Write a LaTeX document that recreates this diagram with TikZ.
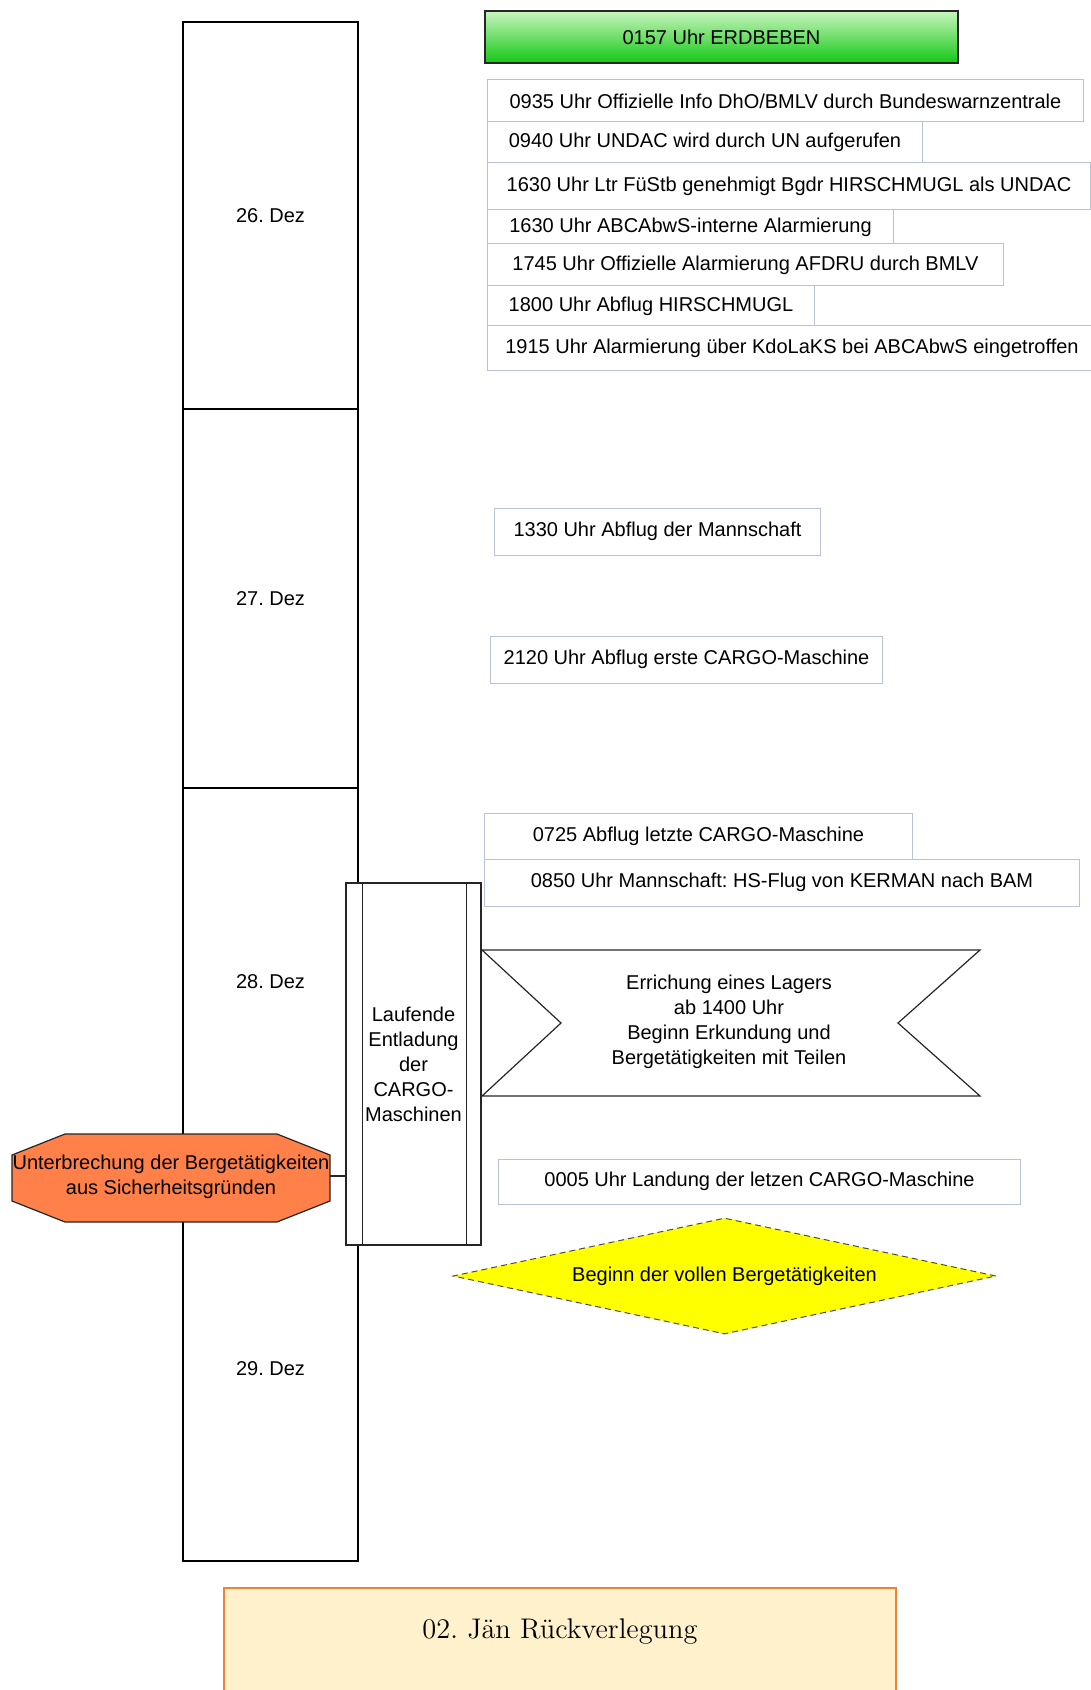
\documentclass[tikz,border=0pt]{standalone}
\usepackage{fontspec}
\newfontfamily\arialfont{Liberation Sans}
\usetikzlibrary{shapes.geometric}
\frenchspacing
\definecolor{boxline}{RGB}{185,195,212}
\definecolor{erdgreen}{RGB}{20,200,20}
\definecolor{erdlight}{RGB}{200,245,190}
\definecolor{stoporange}{RGB}{255,128,72}
\definecolor{fullyellow}{RGB}{255,255,0}
\definecolor{cream}{RGB}{255,241,204}
\definecolor{rueckline}{RGB}{240,130,50}
\tikzset{
  every node/.style={font=\arialfont\fontsize{10}{12.5}\selectfont},
  daybox/.style={draw, line width=0.6pt, minimum width=87.5pt, inner sep=0pt},
  eventbox/.style={draw=boxline, line width=0.5pt, anchor=west, inner sep=0pt, fill=white},
  darkline/.style={draw=black!85, line width=0.6pt}
}
\begin{document}
\begin{tikzpicture}[x=0.5pt,y=-0.5pt]
            \useasboundingbox (0,0) rectangle (1091,1690);
            \node[daybox, minimum height=193.5pt] (d26) at (270.5,215.5) {26. Dez};
            \node[daybox, minimum height=189.5pt] (d27) at (270.5,598.5) {27. Dez};
            \node[daybox, minimum height=194pt] (d28) at (270.5,982) {28. Dez};
            \node[daybox, minimum height=192.5pt] (d29) at (270.5,1368.5) {29. Dez};
            \node[darkline, top color=erdlight, bottom color=erdgreen, minimum width=236.5pt, minimum height=26pt, inner sep=0pt] (quake) at (721.5,37) {0157 Uhr ERDBEBEN};
            \node[eventbox, minimum width=298pt, minimum height=21pt] (e0935) at (487,101) {0935 Uhr Offizielle Info DhO/BMLV durch Bundeswarnzentrale};
            \node[eventbox, minimum width=217.5pt, minimum height=20.5pt] (e0940) at (487,142.5) {0940 Uhr UNDAC wird durch UN aufgerufen};
            \node[eventbox, minimum width=301.5pt, minimum height=23.5pt] (e1630a) at (487,186.5) {1630 Uhr Ltr FüStb genehmigt Bgdr HIRSCHMUGL als UNDAC};
            \node[eventbox, minimum width=203pt, minimum height=17pt] (e1630b) at (487,227) {1630 Uhr ABCAbwS-interne Alarmierung};
            \node[eventbox, minimum width=258pt, minimum height=21pt] (e1745) at (487,265) {1745 Uhr Offizielle Alarmierung AFDRU durch BMLV};
            \node[eventbox, minimum width=163.5pt, minimum height=20pt] (e1800) at (487,306) {1800 Uhr Abflug HIRSCHMUGL};
            \node[eventbox, minimum width=304.5pt, minimum height=22pt] (e1915) at (487,348) {1915 Uhr Alarmierung über KdoLaKS bei ABCAbwS eingetroffen};
            \node[eventbox, minimum width=163pt, minimum height=23.5pt] (e1330) at (494,531.5) {1330 Uhr Abflug der Mannschaft};
            \node[eventbox, minimum width=196pt, minimum height=23.5pt] (e2120) at (490,659.5) {2120 Uhr Abflug erste CARGO-Maschine};
            \node[eventbox, minimum width=214pt, minimum height=23pt] (e0725) at (484,836) {0725 Abflug letzte CARGO-Maschine};
            \node[eventbox, minimum width=297.5pt, minimum height=23.5pt] (e0850) at (484,882.5) {0850 Uhr Mannschaft: HS-Flug von KERMAN nach BAM};
            \draw[darkline, fill=stoporange] (12,1155) -- (65,1134) -- (277,1134) -- (330,1155) -- (330,1201) -- (277,1222) -- (65,1222) -- (12,1201) -- cycle;
            \node[align=center, inner sep=0pt] (stop) at (171,1177) {Unterbrechung der Bergetätigkeiten\\aus Sicherheitsgründen};
            \coordinate (stopE) at (330,1176);
            \node[darkline, fill=white, minimum width=67.5pt, minimum height=181pt, align=center, inner sep=0pt] (cargo) at (413.5,1064) {Laufende\\Entladung\\der\\CARGO-\\Maschinen};
            \draw[darkline] ([xshift=8.5pt]cargo.north west) -- ([xshift=8.5pt]cargo.south west);
            \draw[darkline] ([xshift=-7.5pt]cargo.north east) -- ([xshift=-7.5pt]cargo.south east);
            \draw[darkline] (stopE) -- (cargo.west |- stopE);
            \draw[darkline] (482,950) -- (980,950) -- (898,1023) -- (980,1096) -- (482,1096) -- (561,1023) -- cycle;
            \node[align=center, inner sep=0pt] (camp) at (729,1022) {Errichung eines Lagers\\ab 1400 Uhr\\Beginn Erkundung und\\Bergetätigkeiten mit Teilen};
            \node[eventbox, minimum width=261pt, minimum height=22.5pt] (e0005) at (498,1181.5) {0005 Uhr Landung der letzen CARGO-Maschine};
            \node[diamond, draw=black!70, densely dashed, line width=0.5pt, fill=fullyellow, minimum width=271.5pt, minimum height=58pt, inner sep=0pt, aspect=4.7] (full) at (724.5,1276) {Beginn der vollen Bergetätigkeiten};
            \node[draw=rueckline, line width=1pt, fill=cream, anchor=north, minimum width=336pt, inner sep=0pt, text height=25pt, text depth=60pt, font=\fontsize{14.2}{17}\selectfont] (rueck) at (560,1587) {02. Jän Rückverlegung};
        \end{tikzpicture}
\end{document}
